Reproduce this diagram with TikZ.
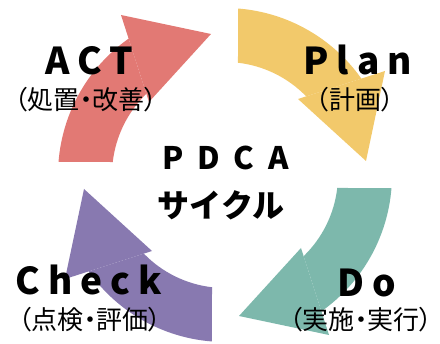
\documentclass[tikz,border=0pt]{standalone}
\usepackage{fontspec}
\newfontfamily\jp{Noto Sans CJK JP}
\newfontfamily\jpp[RawFeature=+palt]{Noto Sans CJK JP}
\definecolor{cyel}{HTML}{F2C96B}
\definecolor{cteal}{HTML}{7DB8AC}
\definecolor{cpurp}{HTML}{8879B0}
\definecolor{cred}{HTML}{E27974}
\tikzset{
  title/.style={inner sep=0pt, anchor=base west, font={\jp\bfseries\fontsize{37}{37}\selectfont\addfontfeature{LetterSpace=22}}},
  mid/.style={inner sep=0pt, anchor=base west, font={\jp\bfseries\fontsize{31}{31}\selectfont\addfontfeature{LetterSpace=45}}},
  kana/.style={inner sep=0pt, anchor=center, font={\jp\bfseries\fontsize{32}{32}\selectfont}},
  sub/.style={inner sep=0pt, anchor=center, font={\jpp\fontsize{26}{26}\selectfont}}
}
\begin{document}
\begin{tikzpicture}[x=1pt,y=1pt]
\useasboundingbox (0,0) rectangle (440,344);
\foreach \k/\c in {0/cyel,1/cteal,2/cpurp,3/cred}{
  \begin{scope}[shift={(225,169)},rotate=-90*\k]
    \fill[\c] (85.5:167) arc[start angle=85.5,end angle=35.25,radius=167]
      -- (44.1:113) arc[start angle=44.1,end angle=83.4,radius=113] -- cycle;
    \fill[\c] (73,76) -- (160,104) -- (141,14) -- cycle;
  \end{scope}
}
\node[title] (act) at (45,269) {ACT};
\node[sub] (actj) at (86,244) {（処置・改善）};
\node[title] (plan) at (303,269) {Plan};
\node[sub] (planj) at (355,244) {（計画）};
\node[mid] (pdca) at (162,174) {PDCA};
\node[kana] (cyc) at (221,139) {サイクル};
\node[title] (check) at (15,49) {Check};
\node[sub] (checkj) at (90,24) {（点検・評価）};
\node[title] (do) at (337,47) {Do};
\node[sub] (doj) at (361,24) {（実施・実行）};
\end{tikzpicture}
\end{document}
